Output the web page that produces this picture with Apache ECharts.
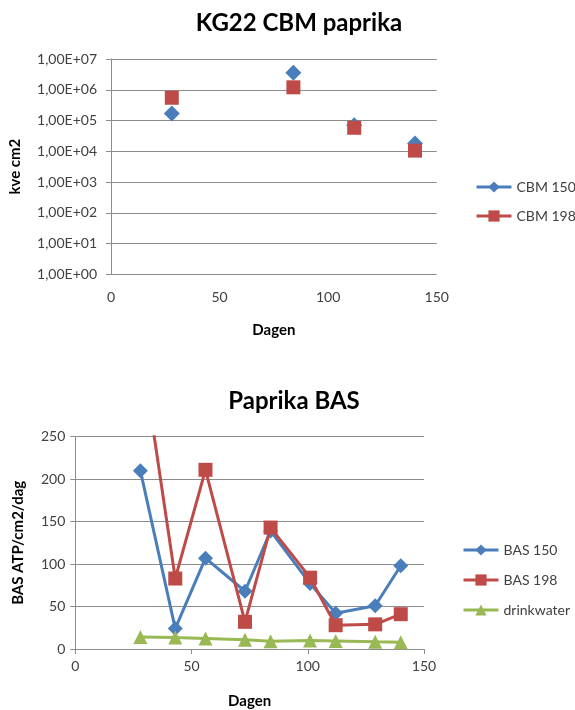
<!DOCTYPE html>
<html>
<head>
<meta charset="utf-8">
<script src="https://cdn.jsdelivr.net/npm/echarts@6/dist/echarts.min.js"></script>
<style>
  html, body { margin: 0; padding: 0; background: #fff; }
  #chart { width: 575px; height: 710px; }
</style>
</head>
<body>
<div id="chart"></div>
<script>
// CBM counts (kve per cm2) per sampling day
const cbmDays = [28, 84, 112, 140];
const cbm150 = [1.7e5, 3.6e6, 7.0e4, 1.8e4];
const cbm198 = [5.5e5, 1.2e6, 5.8e4, 1.05e4];

// BAS (ATP/cm2/dag) per sampling day
const basDays = [28, 43, 56, 73, 84, 101, 112, 129, 140];
const bas150 = [210, 24, 107, 68, 139, 77, 42, 51, 98];
const bas198 = [360, 83, 211, 32, 143, 84, 28, 29, 41];
const drinkwater = [14, 13.5, 12.5, 11, 9, 10, 9.5, 8.5, 8];

const FONT = 'Lato, "Open Sans", sans-serif';
const BLUE = '#4A7EBB';
const RED = '#BE4B48';
const GREEN = '#98B954';
const GRID = '#8C8C8C';
const TEXT = '#404040';

function pairs(xs, ys) { return xs.map((x, i) => [x, ys[i]]); }

function sciLabel(v) {
  const e = Math.round(Math.log10(v));
  return '1,00E+' + (e < 10 ? '0' + e : e);
}

const chart = echarts.init(document.getElementById('chart'), null, { renderer: 'canvas' });

const axisLabelStyle = { color: TEXT, fontFamily: FONT, fontSize: 14 };
const axisNameStyle = { color: '#000', fontFamily: FONT, fontSize: 15, fontWeight: 'bold' };

chart.setOption({
  animation: false,
  title: [
    { text: 'KG22 CBM paprika', left: 294, top: 6, textAlign: 'center',
      textStyle: { fontFamily: FONT, fontSize: 24, fontWeight: 'bold', color: '#000' } },
    { text: 'Paprika BAS', left: 289, top: 384, textAlign: 'center',
      textStyle: { fontFamily: FONT, fontSize: 24, fontWeight: 'bold', color: '#000' } }
  ],
  legend: [
    { orient: 'vertical', left: 470, top: 175, itemWidth: 35, itemHeight: 14, itemGap: 15,
      data: ['CBM 150', 'CBM 198'],
      lineStyle: { width: 3, opacity: 1 },
      textStyle: { fontFamily: FONT, fontSize: 14, color: TEXT } },
    { orient: 'vertical', left: 457, top: 538, itemWidth: 35, itemHeight: 14, itemGap: 16,
      data: ['BAS 150', 'BAS 198', 'drinkwater'],
      lineStyle: { width: 3 },
      textStyle: { fontFamily: FONT, fontSize: 14, color: TEXT } }
  ],
  grid: [
    { left: 110.3, right: 138.3, top: 59, bottom: 435.7 },
    { left: 75.3, right: 151, top: 436.7, bottom: 55 }
  ],
  xAxis: [
    { type: 'value', gridIndex: 0, min: 0, max: 150, interval: 50,
      name: 'Dagen', nameLocation: 'middle', nameGap: 48, nameTextStyle: axisNameStyle,
      axisLine: { show: false }, axisTick: { show: false },
      axisLabel: Object.assign({ margin: 16 }, axisLabelStyle),
      splitLine: { show: false } },
    { type: 'value', gridIndex: 1, min: 0, max: 150, interval: 50,
      name: 'Dagen', nameLocation: 'middle', nameGap: 45, nameTextStyle: axisNameStyle,
      axisLine: { show: true, lineStyle: { color: GRID, width: 1 } },
      axisTick: { show: true, length: 5, lineStyle: { color: GRID } },
      axisLabel: Object.assign({ margin: 10 }, axisLabelStyle),
      splitLine: { show: false } }
  ],
  yAxis: [
    { type: 'log', gridIndex: 0, logBase: 10, min: 1, max: 1e7,
      name: 'kve cm2', nameLocation: 'middle', nameGap: 88, nameTextStyle: axisNameStyle,
      axisLine: { show: true, lineStyle: { color: GRID, width: 1 } },
      axisTick: { show: true, length: 5, lineStyle: { color: GRID } },
      axisLabel: Object.assign({ margin: 14, formatter: sciLabel }, axisLabelStyle),
      splitLine: { show: true, lineStyle: { color: GRID, width: 1 } } },
    { type: 'value', gridIndex: 1, min: 0, max: 250, interval: 50,
      name: 'BAS ATP/cm2/dag', nameLocation: 'middle', nameGap: 50, nameTextStyle: axisNameStyle,
      axisLine: { show: true, lineStyle: { color: GRID, width: 1 } },
      axisTick: { show: true, length: 5, lineStyle: { color: GRID } },
      axisLabel: Object.assign({ margin: 10 }, axisLabelStyle),
      splitLine: { show: true, lineStyle: { color: GRID, width: 1 } } }
  ],
  series: [
    { name: 'CBM 150', type: 'line', xAxisIndex: 0, yAxisIndex: 0,
      data: pairs(cbmDays, cbm150), symbol: 'diamond', symbolSize: 16,
      lineStyle: { width: 0, opacity: 0 }, itemStyle: { color: BLUE }, z: 3 },
    { name: 'CBM 198', type: 'line', xAxisIndex: 0, yAxisIndex: 0,
      data: pairs(cbmDays, cbm198), symbol: 'rect', symbolSize: 14,
      lineStyle: { width: 0, opacity: 0 }, itemStyle: { color: RED }, z: 4 },
    { name: 'BAS 150', type: 'line', xAxisIndex: 1, yAxisIndex: 1, clip: true,
      data: pairs(basDays, bas150), symbol: 'diamond', symbolSize: 15, showAllSymbol: true,
      lineStyle: { width: 3, color: BLUE }, itemStyle: { color: BLUE }, z: 3 },
    { name: 'BAS 198', type: 'line', xAxisIndex: 1, yAxisIndex: 1, clip: true,
      data: pairs(basDays, bas198), symbol: 'rect', symbolSize: 14, showAllSymbol: true,
      lineStyle: { width: 3, color: RED }, itemStyle: { color: RED }, z: 4 },
    { name: 'drinkwater', type: 'line', xAxisIndex: 1, yAxisIndex: 1, clip: true,
      data: pairs(basDays, drinkwater), symbol: 'triangle', symbolSize: 14, showAllSymbol: true,
      lineStyle: { width: 3, color: GREEN }, itemStyle: { color: GREEN }, z: 5 }
  ]
});
</script>
</body>
</html>
